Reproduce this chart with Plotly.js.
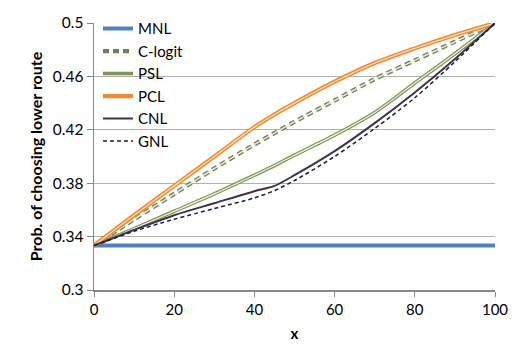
<!DOCTYPE html>
<html><head><meta charset="utf-8">
<script src="https://cdn.plot.ly/plotly-3.0.1.min.js"></script>
<style>body{margin:0;background:#fff}#c{width:522px;height:356px}</style>
</head><body><div id="c"></div>
<script>
const xs = [0, 10, 20, 30, 40, 45, 50, 60, 70, 80, 90, 100];
const mnl    = [0.3333,0.3333,0.3333,0.3333,0.3333,0.3333,0.3333,0.3333,0.3333,0.3333,0.3333,0.3333];
const clogit = [0.3333,0.353,0.372,0.391,0.409,0.4175,0.426,0.442,0.458,0.472,0.486,0.5];
const psl    = [0.3333,0.346,0.359,0.372,0.386,0.3932,0.401,0.416,0.433,0.455,0.477,0.5];
const pcl    = [0.3333,0.356,0.378,0.400,0.422,0.4315,0.440,0.456,0.470,0.481,0.491,0.5];
const cnl    = [0.3333,0.345,0.356,0.365,0.374,0.378,0.386,0.404,0.425,0.448,0.473,0.5];
const gnl    = [0.3333,0.344,0.353,0.361,0.369,0.3745,0.382,0.400,0.421,0.444,0.471,0.5];
const yTicks = [0.3,0.34,0.38,0.42,0.46,0.5];
const yTickText = ["0.3","0.34","0.38","0.42","0.46","0.5"];
const xTicks = [0,20,40,60,80,100];

const sp = {shape:'spline',smoothing:0.8};
const L = (o)=>Object.assign({}, sp, o);
const traces = [
  {x:xs,y:mnl,name:'MNL',mode:'lines',line:L({color:'#4f81bd',width:4})},
  {x:xs,y:clogit,name:'C-logit',mode:'lines',line:L({color:'#6f8050',width:4.2,dash:'6px,4px'})},
  {x:xs,y:clogit,showlegend:false,hoverinfo:'skip',mode:'lines',line:L({color:'#e4ead8',width:1.6,dash:'6px,4px'})},
  {x:xs,y:psl,name:'PSL',mode:'lines',line:L({color:'#7e9450',width:3.6})},
  {x:xs,y:psl,showlegend:false,hoverinfo:'skip',mode:'lines',line:L({color:'#f2f5ea',width:1.2})},
  {x:xs,y:pcl,name:'PCL',mode:'lines',line:L({color:'#ee8a30',width:4.2})},
  {x:xs,y:pcl,showlegend:false,hoverinfo:'skip',mode:'lines',line:L({color:'#fcd9b8',width:1.3})},
  {x:xs,y:cnl,name:'CNL',mode:'lines',line:L({color:'#403152',width:2})},
  {x:xs,y:gnl,name:'GNL',mode:'lines',line:L({color:'#1f1f3a',width:1.5,dash:'4px,3px'})}
];

const font = 'Lato, "Open Sans", sans-serif';
const layout = {
  width:522,height:356,
  margin:{l:94,r:27,t:19,b:66},
  paper_bgcolor:'#fff',plot_bgcolor:'#fff',
  font:{family:font,size:15,color:'#000'},
  showlegend:true,
  legend:{x:0.01,y:1.04,xanchor:'left',yanchor:'top',bgcolor:'rgba(0,0,0,0)',
          font:{family:font,size:15,color:'#000'},tracegroupgap:0,itemwidth:30},
  xaxis:{range:[0,100],tickvals:xTicks,ticks:'outside',ticklen:5,tickcolor:'#888',
         showline:true,linecolor:'#888',linewidth:1.5,showgrid:false,zeroline:false,
         title:{text:'<b>x</b>',font:{size:15},standoff:12},tickfont:{size:15}},
  yaxis:{range:[0.3,0.5],tickvals:yTicks,ticktext:yTickText,ticks:'outside',ticklen:6,tickcolor:'#888',
         showline:true,linecolor:'#888',linewidth:1.5,showgrid:true,gridcolor:'#b0b0b0',gridwidth:1.2,zeroline:false,
         title:{text:'<b>Prob. of choosing lower route</b>',font:{size:16},standoff:6},tickfont:{size:15.5}}
};
Plotly.newPlot('c',traces,layout,{displayModeBar:false,staticPlot:true});
</script></body></html>
